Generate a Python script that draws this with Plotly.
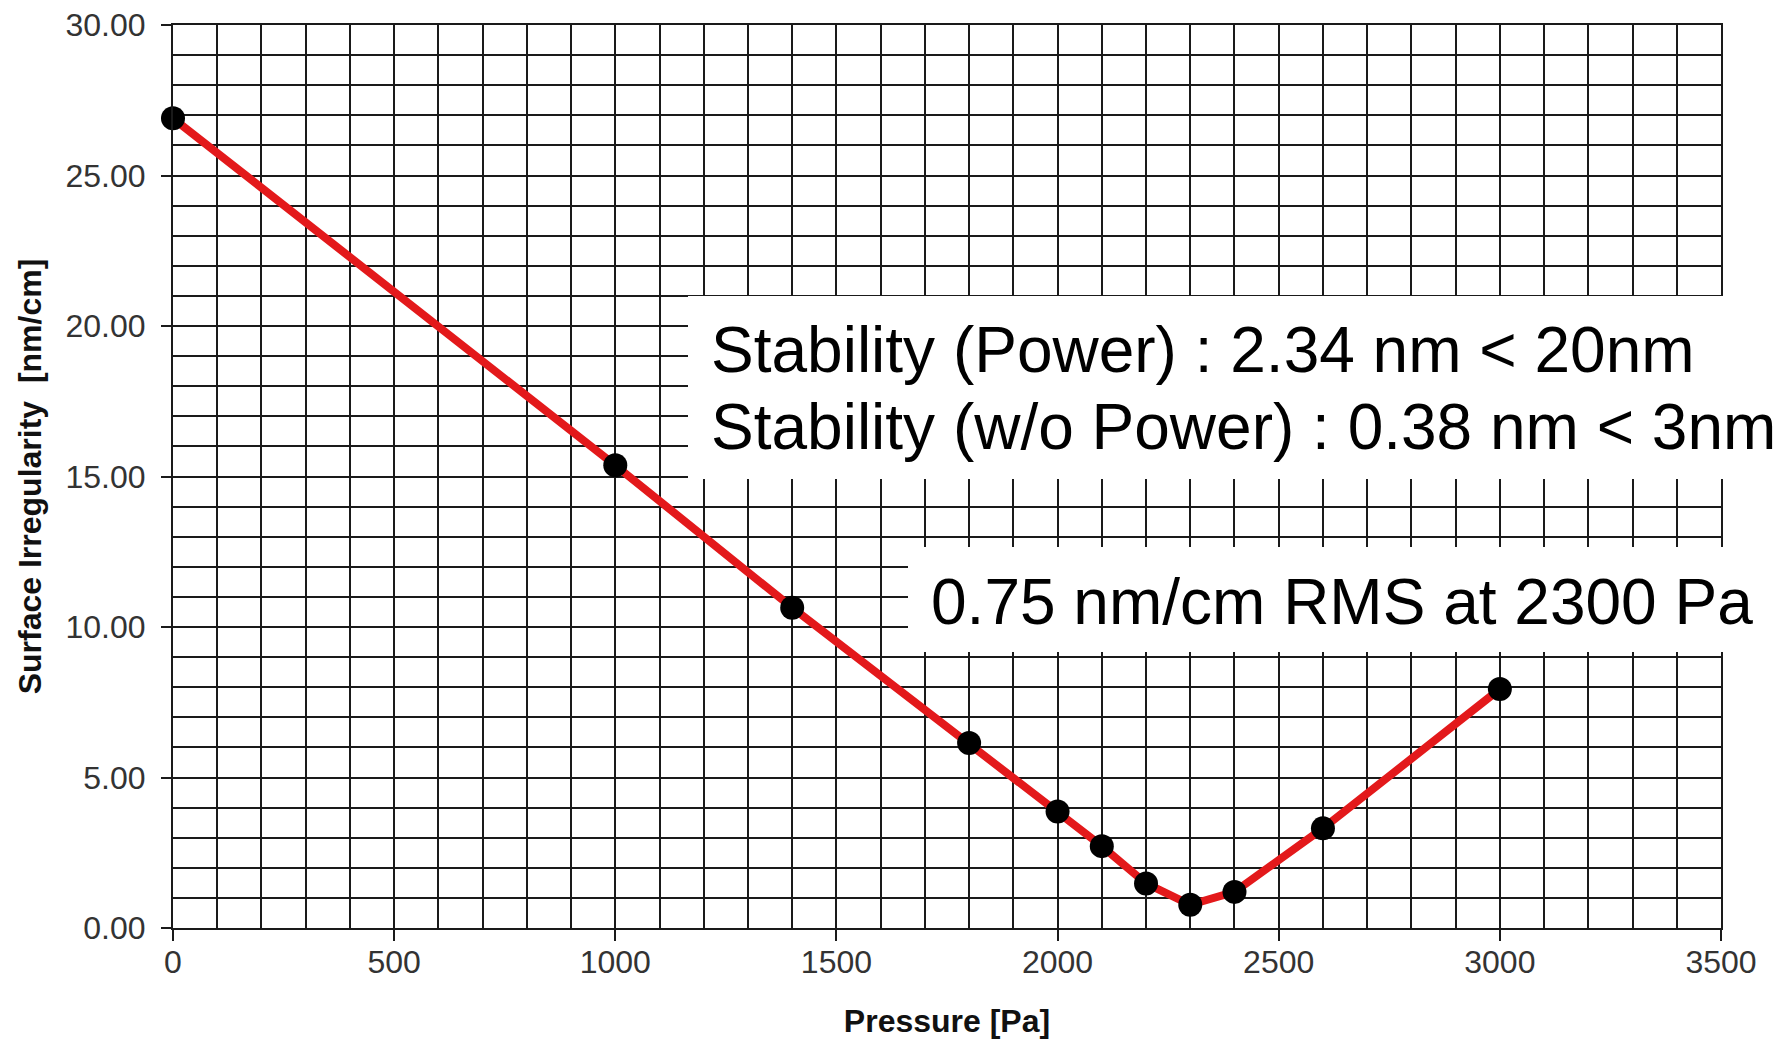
import plotly.graph_objects as go

pressure = [0, 1000, 1400, 1800, 2000, 2100, 2200, 2300, 2400, 2600, 3000]
irregularity = [26.9, 15.37, 10.64, 6.15, 3.87, 2.72, 1.48, 0.77, 1.2, 3.31, 7.94]

x_title = "Pressure [Pa]"
y_title = "Surface Irregularity&nbsp;&nbsp;[nm/cm]"
note_lines = ["Stability (Power) : 2.34 nm < 20nm",
              "Stability (w/o Power) : 0.38 nm < 3nm"]
note_rms = "0.75 nm/cm RMS at 2300 Pa"

GRID = "#1a1a1a"
OFF = 8  # page body margin
W, H = 1780, 1031
# plot area in page pixels: x 173..1721, y 25..928
L, T = 173 - OFF, 25 - OFF
R, B = W - (1721 - OFF), H - (928 - OFF)
PW, PH = W - L - R, H - T - B


def px(xp):
    return (xp - OFF - L) / PW


def py(yp):
    return (H - B - (yp - OFF)) / PH


fig = go.Figure()
fig.add_trace(go.Scatter(
    x=pressure, y=irregularity, mode="lines+markers",
    line=dict(color="#e3191b", width=8),
    marker=dict(color="black", size=24),
    cliponaxis=False, showlegend=False,
))

tick_font = dict(family="Liberation Sans, Arial, sans-serif", size=32, color="#333333")
title_font = dict(family="Liberation Sans, Arial, sans-serif", size=32, color="#111111")

fig.update_xaxes(
    range=[0, 3500], dtick=500, tick0=0, automargin=False,
    showgrid=True, gridcolor=GRID, gridwidth=2,
    minor=dict(dtick=100, showgrid=True, gridcolor=GRID, gridwidth=2, ticks=""),
    ticks="outside", ticklen=11, tickwidth=2, tickcolor=GRID,
    showline=True, linecolor=GRID, linewidth=2, mirror=True,
    zeroline=False, tickfont=tick_font, ticklabelstandoff=-6,
    ticklabeloverflow="allow",
    title=dict(text="<b>" + x_title + "</b>", font=title_font, standoff=36),
)
fig.update_yaxes(
    range=[0, 30], dtick=5, tick0=0, tickformat=".2f", automargin=False,
    showgrid=True, gridcolor=GRID, gridwidth=2,
    minor=dict(dtick=1, showgrid=True, gridcolor=GRID, gridwidth=2, ticks=""),
    ticks="outside", ticklen=10, tickwidth=2, tickcolor=GRID,
    showline=True, linecolor=GRID, linewidth=2, mirror=True,
    zeroline=False, tickfont=tick_font, ticklabelstandoff=9,
    ticklabeloverflow="allow",
    title=dict(text="<b>" + y_title + "</b>", font=title_font, standoff=14),
)

# white boxes behind the notes
fig.add_shape(type="rect", xref="paper", yref="paper",
              x0=px(688), x1=px(1800), y0=py(479), y1=py(296),
              fillcolor="white", line=dict(width=0), layer="above")
fig.add_shape(type="rect", xref="paper", yref="paper",
              x0=px(908), x1=px(1762), y0=py(652), y1=py(547),
              fillcolor="white", line=dict(width=0), layer="above")

note_font = dict(family="Liberation Sans, Arial, sans-serif", size=64, color="black")
for line_text, yc in zip(note_lines, [350, 427]):
    fig.add_annotation(xref="paper", yref="paper", x=px(709), y=py(yc),
                       xanchor="left", yanchor="middle", text=line_text,
                       showarrow=False, font=note_font)
fig.add_annotation(xref="paper", yref="paper", x=px(929), y=py(602),
                   xanchor="left", yanchor="middle", text=note_rms,
                   showarrow=False, font=note_font)

fig.update_layout(
    width=W, height=H,
    margin=dict(l=L, r=R, t=T, b=B, autoexpand=False),
    paper_bgcolor="white", plot_bgcolor="white",
)

fig.write_html("out.html")
